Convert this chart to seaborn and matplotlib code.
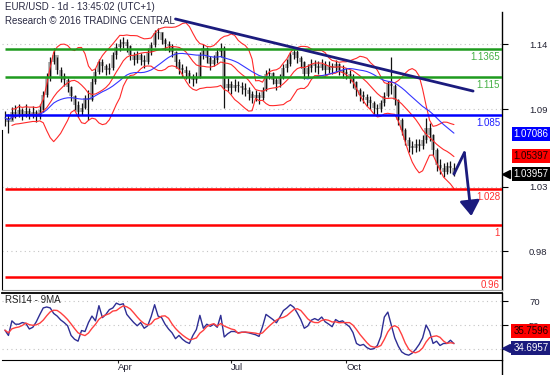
import numpy as np
import pandas as pd
import matplotlib
matplotlib.use('Agg')
import matplotlib.pyplot as plt
import matplotlib.transforms as mtransforms
import seaborn as sns

# EUR/USD daily chart, one bar every 2nd trading day from 2016-01-01
close = [1.0831, 1.0800, 1.0877, 1.0862, 1.0893, 1.0846, 1.0885, 1.0862, 1.0877, 1.0838,
         1.0893, 1.1009, 1.1140, 1.1264, 1.1318, 1.1202, 1.1156, 1.1125, 1.1071, 1.1001,
         1.0931, 1.0877, 1.0908, 1.0985, 1.0970, 1.1109, 1.1187, 1.1264, 1.1233, 1.1202,
         1.1218, 1.1318, 1.1380, 1.1403, 1.1419, 1.1388, 1.1318, 1.1280, 1.1318, 1.1280,
         1.1264, 1.1342, 1.1396, 1.1489, 1.1496, 1.1434, 1.1403, 1.1388, 1.1342, 1.1264,
         1.1218, 1.1202, 1.1179, 1.1140, 1.1125, 1.1148, 1.1318, 1.1372, 1.1295, 1.1249,
         1.1280, 1.1342, 1.1372, 1.1063, 1.1094, 1.1063, 1.1086, 1.1078, 1.1063, 1.1047,
         1.1016, 1.0985, 1.1009, 1.0985, 1.1047, 1.1171, 1.1179, 1.1125, 1.1094, 1.1140,
         1.1218, 1.1249, 1.1318, 1.1342, 1.1295, 1.1264, 1.1171, 1.1218, 1.1249, 1.1233,
         1.1218, 1.1249, 1.1202, 1.1233, 1.1218, 1.1249, 1.1202, 1.1187, 1.1171, 1.1140,
         1.1109, 1.1047, 1.1009, 1.0993, 1.0970, 1.0947, 1.0908, 1.0900, 1.0947, 1.1001,
         1.1094, 1.1078, 1.0970, 1.0815, 1.0738, 1.0660, 1.0614, 1.0599, 1.0629, 1.0614,
         1.0660, 1.0753, 1.0699, 1.0583, 1.0467, 1.0444, 1.0413, 1.0459, 1.0444, 1.03957]
high = [1.0885, 1.0862, 1.0915, 1.0930, 1.0940, 1.0905, 1.0935, 1.0910, 1.0925, 1.0890,
        1.0935, 1.1040, 1.1180, 1.1300, 1.1376, 1.1300, 1.1225, 1.1180, 1.1140, 1.1075,
        1.1010, 1.0960, 1.0950, 1.1010, 1.1047, 1.1140, 1.1220, 1.1290, 1.1285, 1.1250,
        1.1260, 1.1340, 1.1410, 1.1440, 1.1455, 1.1440, 1.1395, 1.1340, 1.1350, 1.1335,
        1.1320, 1.1370, 1.1420, 1.1510, 1.1530, 1.1500, 1.1450, 1.1430, 1.1400, 1.1350,
        1.1290, 1.1250, 1.1230, 1.1200, 1.1170, 1.1190, 1.1340, 1.1400, 1.1380, 1.1310,
        1.1320, 1.1370, 1.1410, 1.1390, 1.1140, 1.1120, 1.1130, 1.1120, 1.1110, 1.1100,
        1.1070, 1.1040, 1.1050, 1.1030, 1.1070, 1.1200, 1.1220, 1.1190, 1.1150, 1.1170,
        1.1250, 1.1290, 1.1340, 1.1370, 1.1360, 1.1310, 1.1270, 1.1250, 1.1290, 1.1280,
        1.1270, 1.1290, 1.1270, 1.1270, 1.1260, 1.1280, 1.1260, 1.1240, 1.1220, 1.1200,
        1.1170, 1.1120, 1.1060, 1.1040, 1.1020, 1.1000, 1.0960, 1.0940, 1.0970, 1.1030,
        1.1120, 1.1303, 1.1090, 1.0980, 1.0830, 1.0750, 1.0680, 1.0650, 1.0670, 1.0670,
        1.0700, 1.0831, 1.0790, 1.0710, 1.0600, 1.0510, 1.0480, 1.0490, 1.0500, 1.0480]
low = [1.0770, 1.0715, 1.0815, 1.0830, 1.0840, 1.0815, 1.0840, 1.0820, 1.0830, 1.0800,
       1.0825, 1.0880, 1.0990, 1.1120, 1.1250, 1.1170, 1.1110, 1.1080, 1.1030, 1.0960,
       1.0890, 1.0838, 1.0850, 1.0900, 1.0815, 1.0960, 1.1090, 1.1170, 1.1190, 1.1160,
       1.1170, 1.1200, 1.1290, 1.1350, 1.1370, 1.1340, 1.1280, 1.1240, 1.1260, 1.1240,
       1.1220, 1.1250, 1.1320, 1.1380, 1.1440, 1.1400, 1.1360, 1.1340, 1.1300, 1.1220,
       1.1170, 1.1150, 1.1130, 1.1100, 1.1080, 1.1100, 1.1140, 1.1290, 1.1260, 1.1200,
       1.1230, 1.1260, 1.1300, 1.0908, 1.1040, 1.1020, 1.1040, 1.1030, 1.1020, 1.1000,
       1.0970, 1.0950, 1.0960, 1.0940, 1.0970, 1.1040, 1.1130, 1.1090, 1.1050, 1.1070,
       1.1130, 1.1190, 1.1230, 1.1290, 1.1260, 1.1220, 1.1130, 1.1150, 1.1190, 1.1190,
       1.1170, 1.1200, 1.1160, 1.1180, 1.1170, 1.1190, 1.1160, 1.1140, 1.1130, 1.1100,
       1.1060, 1.1000, 1.0960, 1.0950, 1.0920, 1.0900, 1.0860, 1.0855, 1.0880, 1.0920,
       1.0990, 1.1020, 1.0930, 1.0780, 1.0700, 1.0620, 1.0570, 1.0550, 1.0570, 1.0575,
       1.0590, 1.0640, 1.0650, 1.0540, 1.0420, 1.0400, 1.0370, 1.0400, 1.0405, 1.0380]
rsi14 = [46.0, 41.6, 53.8, 51.0, 51.0, 52.4, 51.6, 47.0, 48.4, 53.0,
         59.0, 64.6, 65.4, 64.6, 60.0, 57.8, 54.6, 52.4, 49.7, 41.6,
         38.4, 36.8, 45.7, 44.9, 52.4, 57.8, 53.8, 66.5, 56.5, 59.2,
         63.2, 64.6, 68.6, 67.3, 68.1, 59.2, 55.7, 52.4, 49.7, 52.4,
         47.6, 49.7, 57.3, 67.3, 57.8, 56.5, 51.0, 47.0, 43.8, 38.9,
         41.6, 38.4, 36.2, 34.9, 41.6, 46.5, 58.4, 47.6, 51.0, 49.2,
         51.0, 48.4, 58.4, 40.3, 43.0, 44.9, 44.9, 43.8, 44.3, 44.3,
         43.8, 43.0, 42.2, 40.8, 48.9, 59.2, 57.0, 54.9, 52.2, 57.0,
         62.4, 64.6, 67.3, 65.1, 60.3, 54.9, 47.6, 49.5, 54.3, 55.7,
         54.3, 57.0, 53.0, 51.1, 48.9, 54.9, 53.0, 53.8, 51.1, 48.9,
         44.0, 34.9, 33.2, 34.1, 31.4, 30.0, 30.5, 33.2, 40.8, 57.0,
         61.1, 50.3, 39.5, 32.7, 27.8, 25.9, 25.1, 26.8, 30.0, 34.1,
         39.5, 50.3, 44.9, 34.9, 36.8, 33.2, 34.9, 34.9, 37.6, 34.6957]

levels = [1.1365, 1.115, 1.085, 1.028, 1.0, 0.96]
level_labels = ['1.1365', '1.115', '1.085', '1.028', '1', '0.96']
level_colors = ['#1e9b1e', '#1e9b1e', '#0000ff', '#ff0000', '#ff0000', '#ff0000']
level_text_colors = ['#45b045', '#45b045', '#2020ff', '#ff3030', '#ff3030', '#ff3030']

trend_days = [98, 269]
trend_prices = [1.1597, 1.1039]
forecast_days = [258, 264, 268]
forecast_prices = [1.0396, 1.0562, 1.0072]

price_ticks = [1.14, 1.09, 1.03, 0.98]
rsi_ticks = [70, 50, 30]
month_labels = ['Apr', 'Jul', 'Oct']
month_starts = ['2016-04-01', '2016-07-01', '2016-10-01']

last_price = 1.03957
ma50_last = 1.07086
bb_mid_last = 1.05397
rsi_last = 34.6957
rsi_ma_last = 35.7596

navy = '#1b1b7d'

df = pd.DataFrame({'close': close, 'high': high, 'low': low, 'rsi': rsi14})
df['day'] = np.arange(len(df)) * 2
df['open'] = df['close'].shift(1).fillna(df['close'])
# 20-day bollinger and 50-day MA (in 2-day bars)
df['bb_mid'] = df['close'].rolling(10, min_periods=3).mean()
bb_sd = df['close'].rolling(10, min_periods=3).std(ddof=0)
df['bb_up'] = df['bb_mid'] + 2 * bb_sd
df['bb_lo'] = df['bb_mid'] - 2 * bb_sd
df['ma50'] = df['close'].rolling(25, min_periods=1).mean()
df['rsi_ma'] = df['rsi'].rolling(5, min_periods=1).mean()

sns.set_style('white')
plt.rcParams['font.family'] = ['Liberation Sans', 'DejaVu Sans']

fig = plt.figure(figsize=(5.54, 3.75), dpi=100)
ax = fig.add_axes([0.0036, 0.2267, 0.9025, 0.7733])
ax_rsi = fig.add_axes([0.0036, 0.0400, 0.9025, 0.1787], sharex=ax)

x_left, x_right = -1.7, 285.6
ax.set_xlim(x_left, x_right)
ax.set_ylim(0.9499, 1.1744)
ax_rsi.set_ylim(21.06, 77.1)

# price bars
ax.vlines(df['day'], df[['open', 'close']].min(axis=1), df[['open', 'close']].max(axis=1),
          color='#a8a8a8', lw=2.6, zorder=2)
ax.vlines(df['day'], df['low'], df['high'], color='#111111', lw=0.9, zorder=3)

# indicators
for col in ['bb_up', 'bb_mid', 'bb_lo']:
    sns.lineplot(x=df['day'], y=df[col], ax=ax, color='#ff2a2a', lw=0.8, zorder=4)
sns.lineplot(x=df['day'], y=df['ma50'], ax=ax, color='#3535ff', lw=0.8, zorder=4)

# support / resistance levels
ax.hlines(levels, 0, x_right, colors=level_colors, lw=1.8, zorder=5)
lvl_trans = mtransforms.offset_copy(
    mtransforms.blended_transform_factory(ax.transAxes, ax.transData), fig=fig, y=-2, units='points')
for lvl, lab, c in zip(levels, level_labels, level_text_colors):
    ax.text(0.996, lvl, lab, transform=lvl_trans, ha='right', va='top', fontsize=7, color=c)

# trendline and forecast arrow
sns.lineplot(x=trend_days, y=trend_prices, ax=ax, color=navy, lw=2, zorder=6)
sns.lineplot(x=forecast_days[:2], y=forecast_prices[:2], ax=ax, color=navy, lw=2, zorder=6)
ax.annotate('', xy=(forecast_days[2], forecast_prices[2]), xytext=(forecast_days[1], forecast_prices[1]),
            arrowprops=dict(arrowstyle='-|>,head_length=0.45,head_width=0.3', mutation_scale=20,
                            color=navy, lw=2, shrinkA=0, shrinkB=0), zorder=6)

# RSI panel
sns.lineplot(x=df['day'], y=df['rsi'], ax=ax_rsi, color='#2e2e94', lw=1)
sns.lineplot(x=df['day'], y=df['rsi_ma'], ax=ax_rsi, color='#ff4040', lw=1)
ax_rsi.text(0.006, 0.97, 'RSI14 - 9MA', transform=ax_rsi.transAxes, ha='left', va='top',
            fontsize=7, color='#222222')

# axes styling
grid_kw = dict(color='#c4c4c4', ls=(0, (1, 3)), lw=0.8)
for a, ticks in [(ax, price_ticks), (ax_rsi, rsi_ticks)]:
    a.set_yticks(ticks)
    a.yaxis.tick_right()
    a.tick_params(axis='y', direction='out', length=4, width=0.8, pad=15.5,
                  labelsize=6.8, colors='black', labelcolor='#222233')
    a.grid(axis='y', **grid_kw)
    a.set_xlabel('')
    a.set_ylabel('')
    a.spines['top'].set_visible(False)
    a.spines['right'].set_color('black')
    a.spines['right'].set_linewidth(1)
ax.set_yticklabels([f'{t:.2f}' for t in price_ticks])
ax.spines['left'].set_color('black')
ax.spines['left'].set_bounds(0.9499, 1.074)
ax.spines['right'].set_bounds(0.9499, 1.165)
ax.spines['bottom'].set_color('#9a9a9a')
ax.tick_params(axis='x', bottom=False, labelbottom=False)
ax_rsi.spines['left'].set_visible(False)
ax_rsi.spines['top'].set_visible(True)
ax_rsi.spines['top'].set_color('black')
ax_rsi.spines['top'].set_linewidth(1.3)
ax_rsi.spines['bottom'].set_color('black')

month_pos = [np.busday_count('2016-01-01', m) for m in month_starts]
ax_rsi.set_xticks(month_pos)
ax_rsi.set_xticklabels(month_labels, ha='left', fontsize=6.8, color='#222233')
ax_rsi.tick_params(axis='x', direction='out', length=2.5, width=0.8, pad=0, bottom=True)
fig.add_artist(plt.Line2D([0.9061, 0.9061], [0.0, 0.04], color='black', lw=1))

# value boxes on the right scale
def value_box(a, value, text, fc, tc, dy=0, pointer=False):
    base = mtransforms.blended_transform_factory(fig.transFigure, a.transData)
    tr = mtransforms.offset_copy(base, fig=fig, y=dy, units='points')
    a.text(0.99, value, text, transform=tr, ha='right', va='center', fontsize=7, color=tc, zorder=10,
           bbox=dict(boxstyle='square,pad=0.2', fc=fc, ec='none'))
    if pointer:
        ptr = mtransforms.offset_copy(mtransforms.blended_transform_factory(a.transAxes, a.transData),
                                      fig=fig, y=dy, units='points')
        a.plot([1.008], [value], marker='<', ms=6, color=fc, transform=ptr, clip_on=False, zorder=11)

value_box(ax, ma50_last, f'{ma50_last:.5f}', '#0000ff', 'white')
value_box(ax, bb_mid_last, f'{bb_mid_last:.5f}', '#ff0000', '#200000')
value_box(ax, last_price, f'{last_price:.5f}', 'black', 'white', pointer=True)
value_box(ax_rsi, rsi_ma_last, f'{rsi_ma_last:.4f}', '#ff0000', '#200000', dy=8)
value_box(ax_rsi, rsi_last, f'{rsi_last:.4f}', navy, 'white', dy=-3, pointer=True)

# header
fig.text(5 / 554, 1 - 7 / 375, 'EUR/USD - 1d - 13:45:02 (UTC+1)', fontsize=7, color='#2a2a44',
         ha='left', va='center')
fig.text(5 / 554, 1 - 21.5 / 375, 'Research \u00a9 2016 TRADING CENTRAL', fontsize=7, color='#2a2a44',
         ha='left', va='center')

fig.savefig('out.png', dpi=100)
